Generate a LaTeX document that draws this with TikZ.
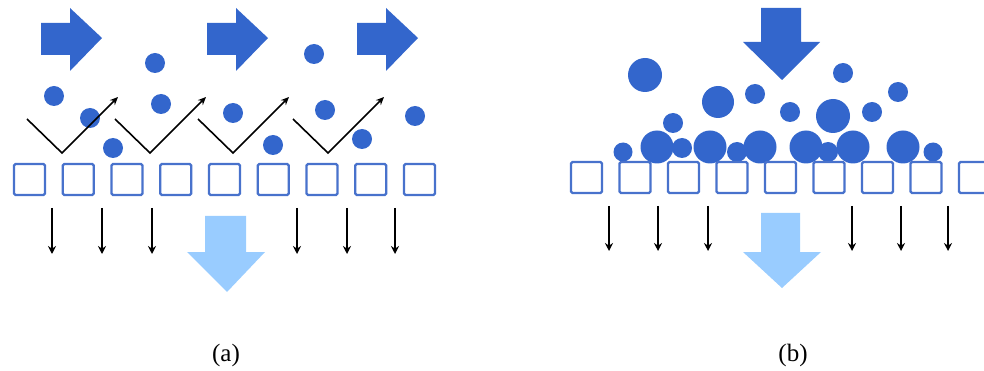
\documentclass[tikz,border=0pt]{standalone}
\usepackage{fontspec}
\setmainfont{Liberation Serif}
\usetikzlibrary{arrows.meta}
\definecolor{deepblue}{RGB}{51,102,204}
\definecolor{framblue}{RGB}{72,114,204}
\definecolor{paleblue}{RGB}{153,204,255}
\tikzset{
  pore/.style={draw=framblue, line width=2.4pt, rounded corners=1.5pt, minimum width=31pt, minimum height=31pt, inner sep=0pt},
  grain/.style={circle, fill=deepblue, inner sep=0pt, minimum size=#1},
  grain/.default=20pt,
  seep/.style={-{Stealth[length=8pt,width=8pt]}, line width=1.7pt, black},
  bounce/.style={-{Stealth[length=8pt,width=7pt]}, line width=1.6pt, black},
  bigarrow/.style={fill=deepblue, draw=none},
  outarrow/.style={fill=paleblue, draw=none},
  caption/.style={font=\fontsize{25}{28}\selectfont, inner sep=0pt}
}
\begin{document}
\begin{tikzpicture}[x=1pt,y=-1pt]
\useasboundingbox (0,0) rectangle (984,371);

% ---------- (a) cross-flow ----------
% feed arrows along the membrane
\foreach \x in {41,207,357}{
  \fill[bigarrow] (\x,23) -- ++(29,0) -- ++(0,-15) -- ++(32,30) -- ++(-32,33) -- ++(0,-16) -- ++(-29,0) -- cycle;
}
% suspended particles
\node[grain] (pa1) at (155,63) {};
\node[grain] (pa2) at (54,96) {};
\node[grain] (pa3) at (90,118) {};
\node[grain] (pa4) at (113,148) {};
\node[grain] (pa5) at (161,104) {};
\node[grain] (pa6) at (233,113) {};
\node[grain] (pa7) at (273,145) {};
\node[grain] (pa8) at (314,54) {};
\node[grain] (pa9) at (325,110) {};
\node[grain] (pa10) at (362,139) {};
\node[grain] (pa11) at (415,116) {};
% particles bouncing off the surface
\foreach \i/\x in {1/27,2/115,3/198,4/293}{
  \coordinate (za\i) at (\x,119);
  \coordinate (zb\i) at (\x+35,153);
  \coordinate (zc\i) at (\x+91,97);
  \draw[bounce] (za\i) -- (zb\i) -- (zc\i);
}
% membrane pores
\foreach \i in {1,...,9}{
  \node[pore] (a\i) at ({29.5+(\i-1)*48.75},179.5) {};
}
% permeate streams
\foreach \i/\x in {1/52,2/102,3/152,4/297,5/347,6/395}{
  \coordinate (sa\i) at (\x,208);
  \coordinate (ta\i) at (\x,254);
  \draw[seep] (sa\i) -- (ta\i);
}
\fill[outarrow] (205,216) -- (246,216) -- (246,252) -- (265,252) -- (227,292) -- (187,252) -- (205,252) -- cycle;
\node[caption] (capa) at (226,355) {(a)};

% ---------- (b) dead-end ----------
\fill[bigarrow] (761,8) -- (801,8) -- (801,42) -- (820,42) -- (782,80) -- (743,42) -- (761,42) -- cycle;
% particles in the feed
\node[grain=34pt] (pb1) at (645,75) {};
\node[grain=32pt] (pb2) at (718,102) {};
\node[grain=20pt] (pb3) at (755,94) {};
\node[grain=20pt] (pb4) at (673,123) {};
\node[grain=20pt] (pb5) at (843,73) {};
\node[grain=20pt] (pb6) at (898,92) {};
\node[grain=20pt] (pb7) at (790,112) {};
\node[grain=34pt] (pb8) at (833,116) {};
\node[grain=20pt] (pb9) at (872,112) {};
% cake layer on the membrane
\node[grain=19pt] (cb1) at (623,152) {};
\node[grain=33pt] (cb2) at (657,147) {};
\node[grain=20pt] (cb3) at (682,148) {};
\node[grain=33pt] (cb4) at (710,147) {};
\node[grain=20pt] (cb5) at (737,152) {};
\node[grain=33pt] (cb6) at (760,147) {};
\node[grain=33pt] (cb7) at (806,147) {};
\node[grain=20pt] (cb8) at (828,152) {};
\node[grain=33pt] (cb9) at (853,147) {};
\node[grain=33pt] (cb10) at (903,147) {};
\node[grain=19pt] (cb11) at (933,152) {};
% membrane pores
\foreach \i in {1,...,9}{
  \node[pore] (b\i) at ({586.5+(\i-1)*48.5},177.5) {};
}
% permeate streams
\foreach \i/\x in {1/609,2/658,3/708,4/852,5/901,6/948}{
  \coordinate (sb\i) at (\x,206);
  \coordinate (tb\i) at (\x,251);
  \draw[seep] (sb\i) -- (tb\i);
}
\fill[outarrow] (761,213) -- (800,213) -- (800,252) -- (821,252) -- (782,288) -- (743,252) -- (761,252) -- cycle;
\node[caption] (capb) at (793,355) {(b)};
\end{tikzpicture}
\end{document}
